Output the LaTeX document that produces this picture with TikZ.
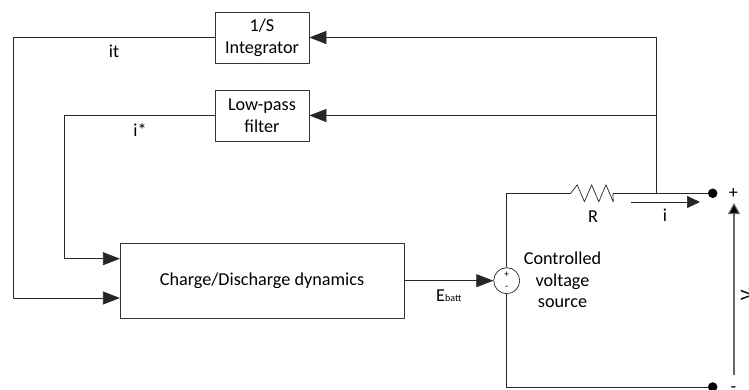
\documentclass[tikz,border=0pt]{standalone}
\usepackage{fontspec}
\setmainfont{Carlito}
\usetikzlibrary{arrows.meta}
\tikzset{
	blockbox/.style={draw=black!80, line width=0.7pt, minimum height=51pt, minimum width=94pt, inner sep=0pt, align=center},
	wire/.style={draw=black!85, line width=0.7pt},
	sig/.style={wire, -{Triangle[length=17pt, width=13pt]}},
	term/.style={circle, fill=black, minimum size=9.5pt, inner sep=0pt},
	txt/.style={inner sep=0pt, align=center}
}
\begin{document}
\begin{tikzpicture}[x=1pt, y=-1pt, font=\fontsize{18.2}{21.5}\selectfont, line join=round]
	\useasboundingbox (0,0) rectangle (749,390);
	\clip (0,0) rectangle (749,390);
	% blocks
	\node[blockbox] (integ) at (262,37.5) {1/S\\Integrator};
	\node[blockbox] (filter) at (262,115.5) {Low-pass\\filter};
	\node[blockbox, minimum width=284pt, minimum height=74.5pt] (dyn) at (262,280.7) {Charge/Discharge dynamics};
	\node[draw=black!85, line width=0.7pt, circle, minimum size=26pt, inner sep=0pt] (src) at (506.7,280.7) {};
	\node[txt, font=\fontsize{10}{10}\selectfont] at (506.7,274.5) {+};
	\node[txt, font=\fontsize{10}{10}\selectfont] at (506.7,288) {-};
	% terminals
	\node[term] (tplus) at (712.7,193.3) {};
	\node[term] (tminus) at (712.7,387) {};
	\coordinate (nodeR) at (656.7,193.3);
	\coordinate (rleft) at (570.7,193.3);
	\coordinate (rright) at (613,193.3);
	% feedback paths
	\draw[sig] (nodeR) |- (integ.east);
	\draw[sig] (656.7,115.5) -- (filter.east);
	\draw[sig] (integ.west) -- (13.5,37.5) |- (119.9,298);
	\draw[sig] (filter.west) -- (64,115.5) |- (119.9,258.7);
	\draw[sig] (dyn.east) -- (src.west);
	% circuit
	\draw[wire] (src.north) |- (rleft);
	\draw[wire] (rleft) -- ++(6.5,-8.5) -- ++(7.2,17) -- ++(7.2,-17) -- ++(7.2,17) -- ++(7.2,-17) -- ++(7.2,17) -- (rright);
	\draw[wire] (rright) -- (tplus);
	\draw[wire] (src.south) |- (tminus);
	% current and voltage
	\draw[wire, -{Triangle[length=13pt, width=12pt]}] (630.7,202) -- (700,202);
	\draw[wire, draw=black!60, line width=1.2pt, -{Triangle[length=11pt, width=12pt, fill=black]}] (734,375) -- (734,203);
	% labels
	\node[txt] at (114,51.5) {it};
	\node[txt] at (140,130) {i*};
	\node[txt] at (593,216.5) {R};
	\node[txt] at (665,215.5) {i};
	\node[txt] at (562.5,280) {Controlled\\voltage\\source};
	\node[txt, anchor=base] at (733.5,199) {+};
	\node[txt, anchor=base] at (733.5,392.5) {-};
	\node[txt, anchor=base west] at (436,301) {E\raisebox{-0.5pt}{\fontsize{10}{10}\selectfont batt}};
	\node[txt, rotate=90, anchor=base west] at (752.5,301) {V\raisebox{-3pt}{\fontsize{10}{10}\selectfont batt}};
\end{tikzpicture}
\end{document}
